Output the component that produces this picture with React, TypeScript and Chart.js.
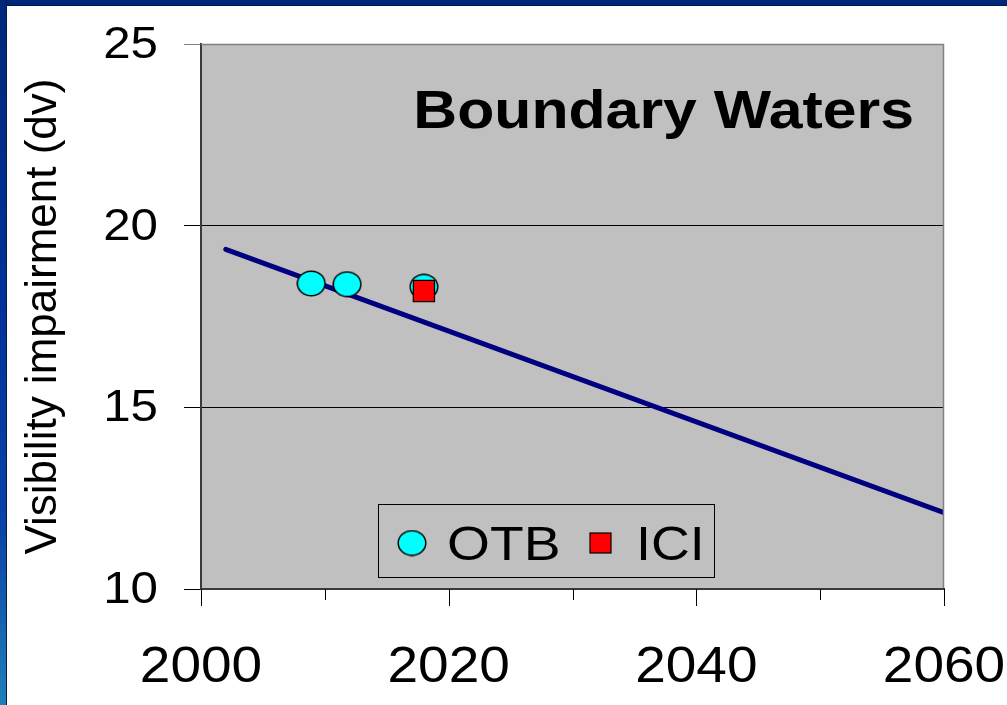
import React, { useEffect, useRef } from "react";
import { Chart, registerables } from "chart.js";

Chart.register(...registerables);

// ---------- data ----------
const X_MIN = 2000;
const X_MAX = 2060;
const X_STEP = 10;
const X_TICK_LABELS = [2000, 2020, 2040, 2060];
const Y_MIN = 10;
const Y_MAX = 25;
const Y_STEP = 5;
const Y_TICK_LABELS = [10, 15, 20, 25];

const TREND_YEARS = [2002, 2060];
const TREND_VALUES = [19.35, 12.1];

const OTB_YEARS = [2008.9, 2011.8, 2018];
const OTB_VALUES = [18.41, 18.39, 18.32];

const ICI_YEARS = [2018];
const ICI_VALUES = [18.2];

const SERIES_NAMES = ["OTB", "ICI"];
const TITLE = "Boundary Waters";
const Y_TITLE = "Visibility impairment (dv)";

// ---------- styles ----------
const FONT = "'Liberation Sans', Arial, Helvetica, sans-serif";
const PLOT_BG = "#C0C0C0";
const OTB_COLOR = "#00FFFF";
const ICI_COLOR = "#FF0000";
const TREND_COLOR = "#000080";

function makeEllipse(): HTMLCanvasElement {
  const c = document.createElement("canvas");
  c.width = 30;
  c.height = 27;
  const g = c.getContext("2d")!;
  g.beginPath();
  g.ellipse(15, 13.5, 13.8, 12.3, 0, 0, Math.PI * 2);
  g.fillStyle = OTB_COLOR;
  g.fill();
  g.lineWidth = 1.5;
  g.strokeStyle = "#000";
  g.stroke();
  return c;
}

function txt(
  ctx: CanvasRenderingContext2D,
  s: string,
  x: number,
  y: number,
  size: number,
  align: CanvasTextAlign,
  sx: number,
  bold = false
) {
  ctx.save();
  ctx.translate(x, y);
  ctx.scale(sx, 1);
  ctx.font = `${bold ? "bold " : ""}${size}px ${FONT}`;
  ctx.fillStyle = "#000";
  ctx.textAlign = align;
  ctx.textBaseline = "alphabetic";
  ctx.fillText(s, 0, 0);
  ctx.restore();
}

export default function App() {
  const ref = useRef<HTMLCanvasElement>(null);

  useEffect(() => {
    document.body.style.margin = "0";
    const ellipse = makeEllipse();

    const decor = {
      id: "decor",
      beforeDraw(chart: any) {
        const { ctx, chartArea: a } = chart;
        ctx.save();
        ctx.fillStyle = PLOT_BG;
        ctx.fillRect(a.left, a.top, a.right - a.left, a.bottom - a.top);
        ctx.restore();
      },
      afterDraw(chart: any) {
        const { ctx, chartArea: a, scales } = chart;
        const xs = scales.x;
        const ys = scales.y;
        ctx.save();
        // plot border top / right
        ctx.strokeStyle = "#808080";
        ctx.lineWidth = 1.5;
        ctx.beginPath();
        ctx.moveTo(a.left, a.top + 0.5);
        ctx.lineTo(a.right - 0.5, a.top + 0.5);
        ctx.lineTo(a.right - 0.5, a.bottom - 1);
        ctx.stroke();

        // x tick marks
        ctx.strokeStyle = "#000";
        ctx.lineWidth = 1;
        ctx.beginPath();
        for (let v = X_MIN; v <= X_MAX; v += X_STEP) {
          const px = Math.round(xs.getPixelForValue(v)) + 0.5;
          const len = X_TICK_LABELS.includes(v) ? 17 : 11;
          ctx.moveTo(px, a.bottom);
          ctx.lineTo(px, a.bottom + len);
        }
        ctx.stroke();
        ctx.restore();

        // x tick labels
        X_TICK_LABELS.forEach((v) => {
          txt(ctx, String(v), xs.getPixelForValue(v), a.bottom + 93, 50, "center", 1.1);
        });
        // y tick labels
        Y_TICK_LABELS.forEach((v) => {
          txt(ctx, String(v), a.left - 43, ys.getPixelForValue(v) + 14, 44, "right", 1.12);
        });

        // title
        txt(ctx, TITLE, a.right - 30, a.top + 84, 54, "right", 1.125, true);

        // y axis title
        ctx.save();
        ctx.translate(56, (a.top + a.bottom) / 2 + 0);
        ctx.rotate(-Math.PI / 2);
        ctx.font = `44px ${FONT}`;
        ctx.fillStyle = "#000";
        ctx.textAlign = "center";
        ctx.textBaseline = "alphabetic";
        ctx.fillText(Y_TITLE, 0, 0);
        ctx.restore();

        // legend
        const lx = a.left + 177;
        const ly = a.top + 460;
        const lw = 336;
        const lh = 73;
        ctx.save();
        ctx.fillStyle = PLOT_BG;
        ctx.fillRect(lx, ly, lw, lh);
        ctx.strokeStyle = "#000";
        ctx.lineWidth = 1;
        ctx.strokeRect(lx + 0.5, ly + 0.5, lw, lh);
        const cy = ly + 39;
        ctx.drawImage(ellipse, lx + 34 - 15, cy - 13.5);
        ctx.fillStyle = ICI_COLOR;
        ctx.fillRect(lx + 212, cy - 10, 21, 20);
        ctx.strokeStyle = "#000";
        ctx.lineWidth = 1.2;
        ctx.strokeRect(lx + 212, cy - 10, 21, 20);
        ctx.restore();
        txt(ctx, SERIES_NAMES[0], lx + 69, ly + 56, 48, "left", 1.15);
        txt(ctx, SERIES_NAMES[1], lx + 258, ly + 56, 48, "left", 1.12);
      },
    };

    const chart = new Chart(ref.current!, {
      type: "scatter",
      data: {
        datasets: [
          {
            label: SERIES_NAMES[1],
            data: ICI_YEARS.map((x, i) => ({ x, y: ICI_VALUES[i] })),
            pointStyle: "rect",
            pointRadius: 15,
            pointBackgroundColor: ICI_COLOR,
            pointBorderColor: "#000",
            pointBorderWidth: 1.2,
            showLine: false,
            order: 0,
          },
          {
            label: SERIES_NAMES[0],
            data: OTB_YEARS.map((x, i) => ({ x, y: OTB_VALUES[i] })),
            pointStyle: ellipse,
            pointRadius: 14,
            showLine: false,
            order: 1,
          },
          {
            label: "trend",
            data: TREND_YEARS.map((x, i) => ({ x, y: TREND_VALUES[i] })),
            showLine: true,
            borderColor: TREND_COLOR,
            borderWidth: 5,
            borderCapStyle: "round",
            pointRadius: 0,
            clip: 0,
            order: 2,
          } as any,
        ],
      },
      options: {
        animation: false,
        responsive: false,
        events: [],
        layout: { padding: { left: 0, top: 44, right: 63, bottom: 0 } },
        plugins: {
          legend: { display: false },
          tooltip: { enabled: false },
          title: { display: false },
        },
        scales: {
          x: {
            type: "linear",
            min: X_MIN,
            max: X_MAX,
            ticks: { stepSize: X_STEP, display: false },
            grid: { display: true, drawOnChartArea: false, drawTicks: false },
            border: { display: true, color: "#3a3a3a", width: 2 },
            afterFit: (s: any) => {
              s.height = 116;
            },
          },
          y: {
            type: "linear",
            min: Y_MIN,
            max: Y_MAX,
            ticks: { stepSize: Y_STEP, display: false },
            grid: {
              display: true,
              drawOnChartArea: true,
              drawTicks: true,
              tickLength: 17,
              color: (c: any) => (c.tick && c.tick.value === Y_MAX ? "#808080" : "#000"),
              tickColor: (c: any) => (c.tick && c.tick.value === Y_MAX ? "#808080" : "#000"),
              lineWidth: 1,
            },
            border: { display: true, color: "#3a3a3a", width: 2 },
            afterFit: (s: any) => {
              s.width = 201;
            },
          },
        },
      },
      plugins: [decor],
    } as any);

    return () => chart.destroy();
  }, []);

  return (
    <div
      style={{
        position: "fixed",
        left: 0,
        top: 0,
        width: 1007,
        height: 705,
        background: "#fff",
        overflow: "hidden",
      }}
    >
      <canvas
        ref={ref}
        width={1007}
        height={705}
        style={{ position: "absolute", left: 0, top: 0, width: 1007, height: 705 }}
      />
      <div
        style={{
          position: "absolute",
          left: 0,
          top: 0,
          width: 1007,
          height: 5,
          background: "#00287a",
          borderBottom: "1px solid #001848",
        }}
      />
      <div
        style={{
          position: "absolute",
          left: 0,
          top: 0,
          width: 6,
          height: 705,
          background:
            "linear-gradient(to bottom, #00287a 0%, #02339a 45%, #0a44a6 75%, #1f80b8 100%)",
          borderRight: "1px solid #0a1a3a",
        }}
      />
    </div>
  );
}
